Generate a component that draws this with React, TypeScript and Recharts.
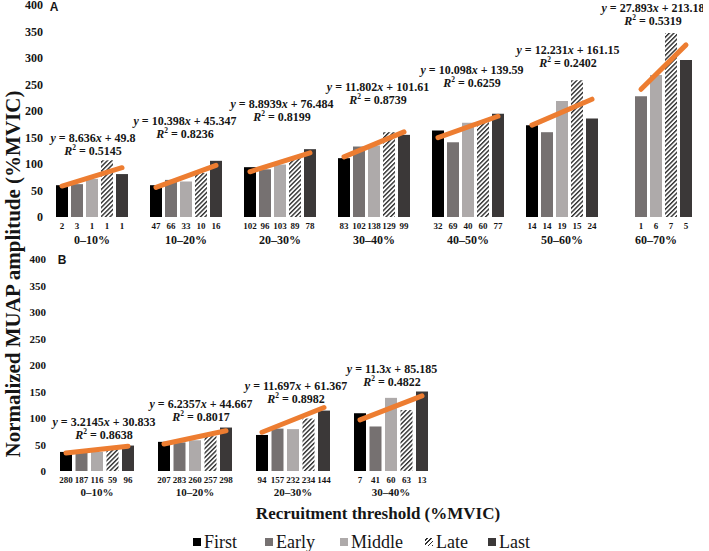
import { ComposedChart, Bar, XAxis, YAxis, Scatter, LabelList } from 'recharts'

const W = 709
const FONT = '"Liberation Serif", "Times New Roman", serif'
const INK = '#151515'

// ---- data ----
const groupsA = ['0–10%', '10–20%', '20–30%', '30–40%', '40–50%', '50–60%', '60–70%']
const groupsB = ['0–10%', '10–20%', '20–30%', '30–40%']

// panel A: normalized MUAP amplitude (%MVIC)
const firstA = [60, 60, 94, 111, 163, 173, null]
const earlyA = [62, 70, 90, 133, 141, 160, 228]
const middleA = [72, 67, 99, 135, 178, 219, 268]
const lateA = [107, 83, 111, 160, 180, 258, 347]
const lastA = [81, 106, 128, 155, 195, 186, 296]

// panel A: number of units under each bar
const nFirstA = [2, 47, 102, 83, 32, 14, null]
const nEarlyA = [3, 66, 96, 102, 69, 14, 1]
const nMiddleA = [1, 33, 103, 138, 40, 19, 6]
const nLateA = [1, 10, 89, 129, 60, 15, 7]
const nLastA = [1, 16, 78, 99, 77, 24, 5]

const slopeA = [8.636, 10.398, 8.8939, 11.802, 10.098, 12.231, 27.893]
const interceptA = [49.8, 45.347, 76.484, 101.61, 139.59, 161.15, 213.18]
const r2A = [0.5145, 0.8236, 0.8199, 0.8739, 0.6259, 0.2402, 0.5319]

// panel B
const firstB = [36, 55, 68, 109]
const earlyB = [34, 54, 80, 84]
const middleB = [36, 58, 79, 138]
const lateB = [41, 66, 99, 115]
const lastB = [48, 82, 114, 150]

const nFirstB = [280, 207, 94, 7]
const nEarlyB = [187, 283, 157, 41]
const nMiddleB = [116, 260, 232, 60]
const nLateB = [59, 257, 234, 63]
const nLastB = [96, 298, 144, 13]

const slopeB = [3.2145, 6.2357, 11.697, 11.3]
const interceptB = [30.833, 44.667, 61.367, 85.185]
const r2B = [0.8638, 0.8017, 0.8982, 0.4822]

const yTicks = [0, 50, 100, 150, 200, 250, 300, 350, 400]

const SERIES = [
  { key: 'first', name: 'First', color: '#000000' },
  { key: 'early', name: 'Early', color: '#767171' },
  { key: 'middle', name: 'Middle', color: '#AEAAAA' },
  { key: 'late', name: 'Late', color: null },
  { key: 'last', name: 'Last', color: '#3B3838' },
]

function buildRows(groups: string[], vals: (number | null)[][], counts: (number | null)[][]) {
  return groups.map((g, i) => {
    const row: any = { group: g }
    SERIES.forEach((s, j) => {
      row[s.key] = vals[j][i]
      row['n_' + s.key] = counts[j][i]
    })
    return row
  })
}

const rowsA = buildRows(groupsA, [firstA, earlyA, middleA, lateA, lastA], [nFirstA, nEarlyA, nMiddleA, nLateA, nLastA])
const rowsB = buildRows(groupsB, [firstB, earlyB, middleB, lateB, lastB], [nFirstB, nEarlyB, nMiddleB, nLateB, nLastB])

// equation label placement (first line centre, in value units) and x nudge in px
const eqAtA = [150, 182, 214, 246, 278, 316, 395]
const eqDxA = [1, -1, 2, 4, 4, 6, -3]
const eqAtB = [93, 127, 161, 193]
const eqDxB = [7, 6, 3, 1]

// legend item left edges (px)
const legendLeft = [193, 265, 340, 425, 488]

function countLabel(fs: number) {
  return (props: any) => {
    const vb = props.viewBox ?? props
    const { value } = props
    if (value == null || vb.width == null) return null
    return (
      <text
        x={vb.x + vb.width / 2}
        y={vb.y + vb.height + 9}
        textAnchor="middle"
        dominantBaseline="central"
        fontSize={fs}
        fontWeight="bold"
        fontFamily={FONT}
        fill={INK}
      >
        {value}
      </text>
    )
  }
}

function EqLabel(props: any) {
  const { cx, cy, payload } = props
  const st = { fontSize: 12, fontWeight: 'bold' as const, fontFamily: FONT, fill: INK }
  return (
    <g>
      <text x={cx} y={cy} textAnchor="middle" dominantBaseline="central" {...st}>
        <tspan fontStyle="italic">y</tspan>
        <tspan>{' = ' + payload.slope}</tspan>
        <tspan fontStyle="italic">x</tspan>
        <tspan>{' + ' + payload.intercept}</tspan>
      </text>
      <text x={cx} y={cy + 13.5} textAnchor="middle" dominantBaseline="central" {...st}>
        <tspan fontStyle="italic">R</tspan>
        <tspan dy={-4} fontSize={7.5}>2</tspan>
        <tspan dy={4}>{' = ' + payload.r2}</tspan>
      </text>
    </g>
  )
}

interface PanelProps {
  id: string
  rows: any[]
  slope: number[]
  intercept: number[]
  r2: number[]
  eqAt: number[]
  eqDx: number[]
  height: number
  yWidth: number
  right: number
  xHeight: number
  barSize: number
  barGap: number
  tickFont: number
  countFont: number
  groupFont: number
  groupDy: number
}

function Panel(p: PanelProps) {
  const n = p.rows.length
  const band = (W - p.yWidth - p.right) / n
  const off = Math.floor((band - (5 * p.barSize + 4 * p.barGap)) / 2)
  const slotX = (j: number) => (off + j * (p.barSize + p.barGap) + p.barSize / 2) / band

  const trends = p.rows.map((row, i) => {
    const present = SERIES.map((s, j) => (row[s.key] == null ? -1 : j)).filter((j) => j >= 0)
    const k = present.length
    return [
      { x: i + slotX(present[0]), y: p.slope[i] + p.intercept[i] },
      { x: i + slotX(present[k - 1]), y: p.slope[i] * k + p.intercept[i] },
    ]
  })
  const eqPts = p.rows.map((_, i) => ({
    x: i + 0.5 + p.eqDx[i] / band,
    y: p.eqAt[i],
    slope: p.slope[i],
    intercept: p.intercept[i],
    r2: p.r2[i],
  }))
  const hatchId = 'hatch' + p.id

  return (
    <ComposedChart
      width={W}
      height={p.height}
      data={p.rows}
      margin={{ top: 5, right: p.right, left: 0, bottom: 0 }}
      barGap={p.barGap}
    >
      <defs>
        <pattern id={hatchId} patternUnits="userSpaceOnUse" width={3.2} height={3.2} patternTransform="rotate(45)">
          <rect width={3.2} height={3.2} fill="#ffffff" />
          <rect width={1.4} height={3.2} fill="#2e2e2e" />
        </pattern>
      </defs>
      <XAxis
        xAxisId="cat"
        dataKey="group"
        axisLine={false}
        tickLine={false}
        tickSize={0}
        height={p.xHeight}
        interval={0}
        tick={(t: any) => (
          <text
            x={t.x}
            y={t.y + p.groupDy}
            textAnchor="middle"
            dominantBaseline="central"
            fontSize={p.groupFont}
            fontWeight="bold"
            fontFamily={FONT}
            fill={INK}
          >
            {t.payload.value}
          </text>
        )}
      />
      <XAxis xAxisId="num" type="number" dataKey="x" domain={[0, n]} hide allowDataOverflow />
      <YAxis
        domain={[0, 400]}
        ticks={yTicks}
        interval={0}
        width={p.yWidth}
        axisLine={false}
        tickLine={false}
        tickSize={0}
        tickMargin={2}
        tick={(t: any) => (
          <text
            x={t.x}
            y={t.y}
            textAnchor="end"
            dominantBaseline="central"
            fontSize={p.tickFont}
            fontWeight="bold"
            fontFamily={FONT}
            fill={INK}
          >
            {t.payload.value}
          </text>
        )}
      />
      {SERIES.map((s) => (
        <Bar
          key={s.key}
          xAxisId="cat"
          dataKey={s.key}
          name={s.name}
          barSize={p.barSize}
          fill={s.color ?? `url(#${hatchId})`}
          isAnimationActive={false}
        >
          <LabelList dataKey={'n_' + s.key} content={countLabel(p.countFont)} />
        </Bar>
      ))}
      {trends.map((pts, i) => (
        <Scatter
          key={'t' + i}
          xAxisId="num"
          data={pts}
          dataKey="y"
          line={{ stroke: '#ED7D31', strokeWidth: 5, strokeLinecap: 'round' }}
          shape={() => <g />}
          isAnimationActive={false}
        />
      ))}
      <Scatter xAxisId="num" data={eqPts} dataKey="y" shape={EqLabel} isAnimationActive={false} />
    </ComposedChart>
  )
}

function LegendRow() {
  return (
    <>
      {SERIES.map((s, i) => (
        <div
          key={s.key}
          style={{
            position: 'absolute',
            left: legendLeft[i],
            top: 533,
            display: 'flex',
            alignItems: 'center',
            fontFamily: FONT,
            fontSize: 18,
            lineHeight: '18px',
            color: INK,
            whiteSpace: 'nowrap',
          }}
        >
          <span
            style={{
              display: 'inline-block',
              width: 8,
              height: 8,
              marginRight: 3,
              background: s.color ?? 'repeating-linear-gradient(-45deg, #2e2e2e 0 1.2px, #ffffff 1.2px 3px)',
            }}
          />
          <span>{s.name}</span>
        </div>
      ))}
    </>
  )
}

export default function App() {
  return (
    <div style={{ position: 'absolute', left: 0, top: 0, width: W, height: 551, background: '#ffffff' }}>
      <div style={{ position: 'absolute', left: 0, top: 0 }}>
        <Panel
          id="A"
          rows={rowsA}
          slope={slopeA}
          intercept={interceptA}
          r2={r2A}
          eqAt={eqAtA}
          eqDx={eqDxA}
          height={250}
          yWidth={45}
          right={6}
          xHeight={33}
          barSize={12}
          barGap={3}
          tickFont={12}
          countFont={9}
          groupFont={12}
          groupDy={21}
        />
      </div>
      <div style={{ position: 'absolute', left: 0, top: 254 }}>
        <Panel
          id="B"
          rows={rowsB}
          slope={slopeB}
          intercept={interceptB}
          r2={r2B}
          eqAt={eqAtB}
          eqDx={eqDxB}
          height={247}
          yWidth={48}
          right={269}
          xHeight={30}
          barSize={12}
          barGap={3.5}
          tickFont={11}
          countFont={9}
          groupFont={11}
          groupDy={19}
        />
      </div>
      <svg width={W} height={551} style={{ position: 'absolute', left: 0, top: 0, pointerEvents: 'none' }}>
        <text
          transform="translate(13,274) rotate(-90)"
          textAnchor="middle"
          dominantBaseline="central"
          fontSize={21}
          fontWeight="bold"
          fontFamily={FONT}
          fill={INK}
        >
          Normalized MUAP amplitude (%MVIC)
        </text>
        <text x={378} y={513} textAnchor="middle" dominantBaseline="central" fontSize={17} fontWeight="bold" fontFamily={FONT} fill={INK}>
          Recruitment threshold (%MVIC)
        </text>
        <text x={54} y={7} textAnchor="middle" dominantBaseline="central" fontSize={12} fontWeight="bold" fontFamily='"Liberation Sans", Arial, sans-serif' fill={INK}>
          A
        </text>
        <text x={62} y={260} textAnchor="middle" dominantBaseline="central" fontSize={12} fontWeight="bold" fontFamily='"Liberation Sans", Arial, sans-serif' fill={INK}>
          B
        </text>
      </svg>
      <LegendRow />
    </div>
  )
}
